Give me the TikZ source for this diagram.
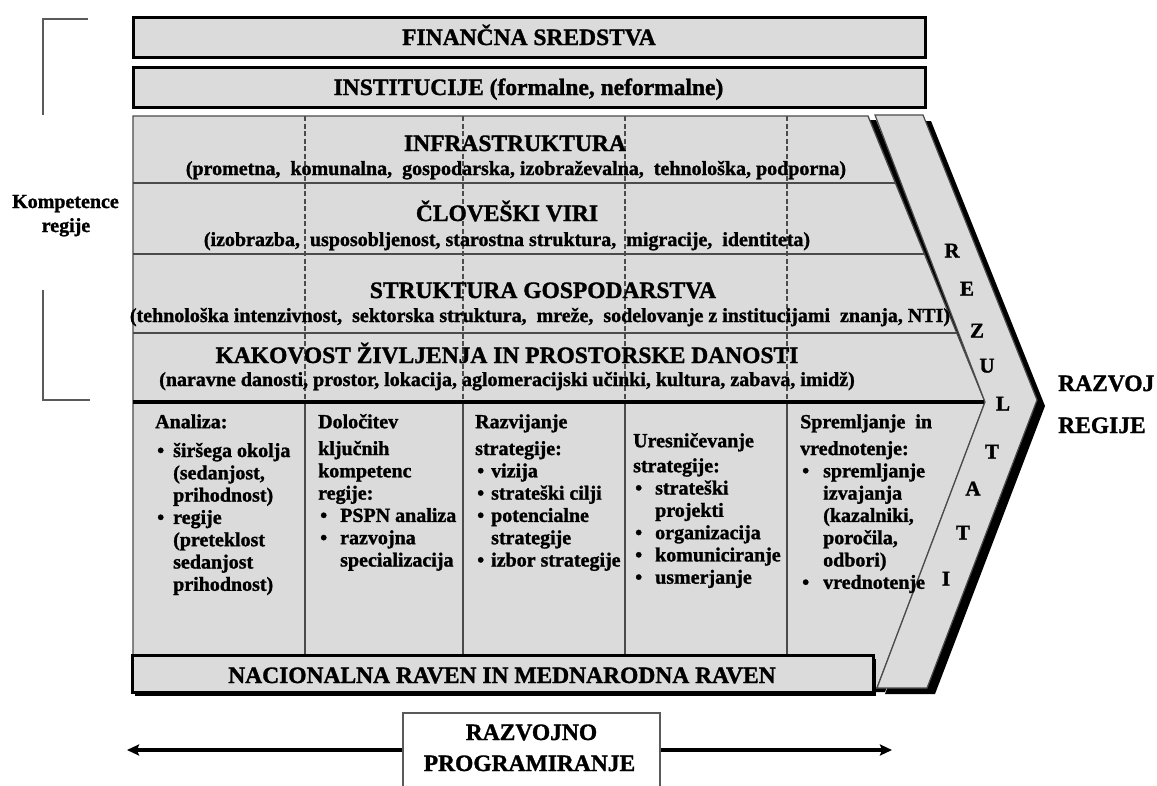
\documentclass[tikz,border=0pt]{standalone}
\usepackage{fontspec}
\setmainfont{Liberation Serif}[BoldFeatures={FakeBold=1.3}]
\usetikzlibrary{arrows.meta}
\definecolor{boxgray}{RGB}{219,219,219}
\definecolor{rulegray}{RGB}{75,75,75}
\definecolor{brgray}{RGB}{90,90,90}
\newcommand{\bi}[1]{\hspace*{2pt}\makebox[#1][l]{\textbullet}}
\newcommand{\ci}[1]{\hspace*{\dimexpr #1+2pt\relax}}
\begin{document}
\begin{tikzpicture}[x=1pt,y=-1pt,
  big/.style={font=\fontsize{23.5}{25}\selectfont\bfseries, inner sep=0pt, anchor=base},
  subt/.style={font=\fontsize{20}{22}\selectfont\bfseries, inner sep=0pt, anchor=base},
  chv/.style={font=\fontsize{21}{22}\selectfont\bfseries, inner sep=0pt, anchor=base},
  coltext/.style={font=\fontsize{20}{22.3}\selectfont\bfseries, inner sep=0pt, align=left, anchor=north west},
  thickbox/.style={draw=black, line width=3pt, fill=boxgray},
  shadowfill/.style={fill=black, draw=none},
  rowline/.style={draw=rulegray, line width=1.2pt},
  dashline/.style={draw=rulegray, line width=1.1pt, dash pattern=on 5pt off 2.5pt},
  colline/.style={draw=rulegray, line width=1.2pt},
  bracket/.style={draw=brgray, line width=2pt},
  arrline/.style={draw=black, line width=4pt, -{Stealth[length=12pt,width=11pt,inset=2pt]}}
]
\useasboundingbox (0,0) rectangle (1157,785);
\fill[white] (0,0) rectangle (1157,785);

% brackets
\draw[bracket] (88,19) -- (43,19) -- (43,115);
\draw[bracket] (43,290) -- (43,400) -- (90,400);

% top boxes
\fill[shadowfill] (135,19) rectangle (927,59);
\path[thickbox] (133,17) rectangle (925,57);
\fill[shadowfill] (135,69) rectangle (927,109);
\path[thickbox] (133,67) rectangle (925,107);

% main body
\fill[shadowfill] (141,120) -- (876,120) -- (993,406) -- (885,692) -- (141,692) -- cycle;
\path[fill=boxgray, draw=rulegray, line width=1.3pt]
  (133,116) -- (868,116) -- (985,402) -- (877,688) -- (133,688) -- cycle;
\begin{scope}
  \clip (133,116) -- (868,116) -- (985,402) -- (877,688) -- (133,688) -- cycle;
  \draw[rowline] (133,183) -- (1000,183);
  \draw[rowline] (133,254) -- (1000,254);
  \draw[rowline] (133,333) -- (1000,333);
  \foreach \cx in {305,463,625,787} {
    \draw[dashline] (\cx,116) -- (\cx,402);
    \draw[colline] (\cx,402) -- (\cx,655);
  }
\end{scope}
\draw[black, line width=3.2pt] (133,402) -- (985,402);

% chevron
\fill[shadowfill] (883,121) -- (931,121) -- (1045,406) -- (935,694) -- (885,694) -- (993,408) -- cycle;
\path[fill=boxgray, draw=rulegray, line width=1.2pt]
  (875,115) -- (923,115) -- (1037,400) -- (927,688) -- (877,688) -- (985,402) -- cycle;

% national box
\fill[shadowfill] (135,659) rectangle (876,696);
\path[thickbox] (132,655) rectangle (873,692);

% programming box and arrows
\node[draw=brgray, line width=1.5pt, fill=white, minimum width=257pt, minimum height=74pt, inner sep=0pt] (prog) at (531.5,750) {};
\coordinate (leftend) at (127,750);
\coordinate (rightend) at (892,750);
\draw[arrline] (prog.west) -- (leftend);
\draw[arrline] (prog.east) -- (rightend);

% texts
\node[big] (fin) at (529,45) {FINANČNA SREDSTVA};
\node[big] (inst) at (528.5,95) {INSTITUCIJE (formalne, neformalne)};
\node[big] (infra) at (515,151) {INFRASTRUKTURA};
\node[subt] (infrasub) at (516,175) {(prometna,~ komunalna,~ gospodarska, izobraževalna,~ tehnološka, podporna)};
\node[big] (clov) at (507,221) {ČLOVEŠKI VIRI};
\node[subt] (clovsub) at (507,246) {(izobrazba,~ usposobljenost, starostna struktura,~ migracije,~ identiteta)};
\node[big] (struk) at (543,298) {STRUKTURA GOSPODARSTVA};
\node[subt] (struksub) at (540,322) {(tehnološka intenzivnost,~ sektorska struktura,~ mreže,~ sodelovanje z institucijami~ znanja, NTI)};
\node[big] (kak) at (507,363) {KAKOVOST ŽIVLJENJA IN PROSTORSKE DANOSTI};
\node[subt] (kaksub) at (507,386) {(naravne danosti, prostor, lokacija, aglomeracijski učinki, kultura, zabava, imidž)};
\node[big] (nac) at (502,683) {NACIONALNA RAVEN IN MEDNARODNA RAVEN};

\node[subt] (komp1) at (65.5,208) {Kompetence};
\node[subt] (komp2) at (66,232) {regije};

\node[big, anchor=base west] (razv1) at (1058,391) {RAZVOJ};
\node[big, anchor=base west] (razv2) at (1058,433) {REGIJE};

\node[big] (prog1) at (531.5,740) {RAZVOJNO};
\node[big] (prog2) at (529.5,771) {PROGRAMIRANJE};

\node[chv] (r1) at (952,257.5) {R};
\node[chv] (r2) at (967,295.5) {E};
\node[chv] (r3) at (977,337.5) {Z};
\node[chv] (r4) at (987,372.5) {U};
\node[chv] (r5) at (1003,410.5) {L};
\node[chv] (r6) at (992,458.5) {T};
\node[chv] (r7) at (973,495.5) {A};
\node[chv] (r8) at (963,539.5) {T};
\node[chv] (r9) at (946,585.5) {I};

\node[coltext] (col1) at (155,412.4) {\strut Analiza:\\[6.5pt]
\bi{16pt}širšega okolja\\
\ci{16pt}(sedanjost,\\
\ci{16pt}prihodnost)\\
\bi{16pt}regije\\
\ci{16pt}(preteklost\\
\ci{16pt}sedanjost\\
\ci{16pt}prihodnost)};

\node[coltext] (col2) at (318,412.4) {\strut Določitev\\[4.5pt]
ključnih\\
kompetenc\\
regije:\\
\bi{20pt}PSPN analiza\\
\bi{20pt}razvojna\\
\ci{20pt}specializacija};

\node[coltext] (col3) at (475,412.4) {\strut Razvijanje\\[4.5pt]
strategije:\\
\bi{14pt}vizija\\
\bi{14pt}strateški cilji\\
\bi{14pt}potencialne\\
\ci{14pt}strategije\\
\bi{14pt}izbor strategije};

\node[coltext] (col4) at (633,431.4) {\strut Uresničevanje\\[2.7pt]
strategije:\\
\bi{20pt}strateški\\
\ci{20pt}projekti\\
\bi{20pt}organizacija\\
\bi{20pt}komuniciranje\\
\bi{20pt}usmerjanje};

\node[coltext] (col5) at (800,412.4) {\strut Spremljanje~ in\\[4.5pt]
vrednotenje:\\
\bi{21pt}spremljanje\\
\ci{21pt}izvajanja\\
\ci{21pt}(kazalniki,\\
\ci{21pt}poročila,\\
\ci{21pt}odbori)\\
\bi{21pt}vrednotenje};
\end{tikzpicture}
\end{document}
